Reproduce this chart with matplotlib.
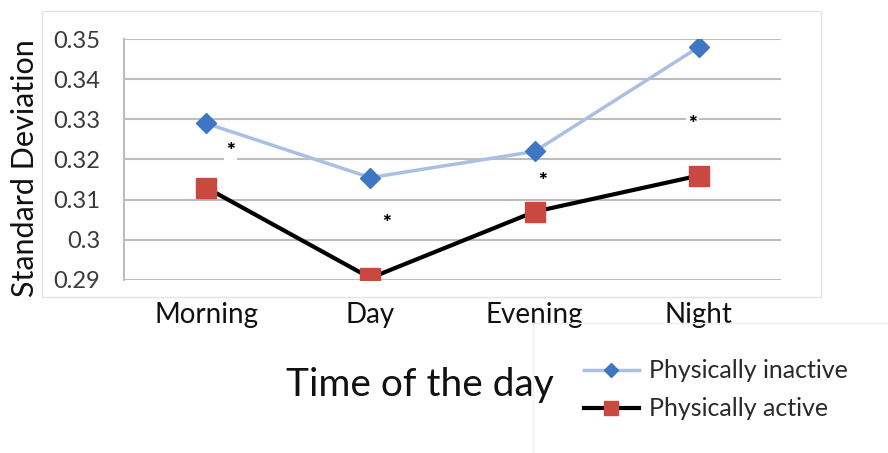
import numpy as np
import matplotlib.pyplot as plt
from matplotlib.patches import Rectangle
from matplotlib.lines import Line2D

plt.rcParams['font.family'] = ['Lato', 'DejaVu Sans']

# Dữ liệu theo thời điểm trong ngày
times = ['Morning', 'Day', 'Evening', 'Night']
inactive = [0.329, 0.3155, 0.322, 0.348]
active = [0.313, 0.2905, 0.307, 0.316]
y_ticks = [0.29, 0.3, 0.31, 0.32, 0.33, 0.34, 0.35]
y_tick_labels = ['0.29', '0.3', '0.31', '0.32', '0.33', '0.34', '0.35']

# Vị trí dấu * (mức ý nghĩa)
star_x = [0.65, 1.6, 2.55, 3.46]
star_y = [0.3219, 0.3040, 0.3146, 0.3288]

fig = plt.figure(figsize=(8.88, 4.53), dpi=100)
W, H = 888, 453

# Khung ngoài của biểu đồ
fig.patches.append(Rectangle((42 / W, 1 - 297 / H), (821 - 42) / W, (297 - 11) / H,
                             transform=fig.transFigure, fill=False,
                             edgecolor='#E4E4E4', linewidth=1))
# Khung chú thích
fig.add_artist(Line2D([533 / W, 533 / W], [1 - 323 / H, 0], transform=fig.transFigure,
                      color='#EDEDED', linewidth=1))
fig.add_artist(Line2D([533 / W, 1], [1 - 323 / H, 1 - 323 / H], transform=fig.transFigure,
                      color='#EDEDED', linewidth=1))

ax = fig.add_axes([124 / W, 1 - 280 / H, (781 - 124) / W, (280 - 39) / H])
x = np.arange(len(times)) + 0.5

ax.plot(x, inactive, color='#A9C0E3', linewidth=2.5, marker='D', markersize=10,
        markerfacecolor='#3F76C4', markeredgecolor='#3F76C4', zorder=3)
ax.plot(x, active, color='black', linewidth=3, marker='s', markersize=14,
        markerfacecolor='#C9483F', markeredgecolor='#C9483F', zorder=4)

for sx, sy in zip(star_x, star_y):
    ax.text(sx, sy, '*', ha='center', va='center', fontsize=15, fontweight='heavy',
            color='black', zorder=2,
            bbox=dict(facecolor='white', edgecolor='none', pad=1.5))

ax.set_xlim(0, 4)
ax.set_ylim(0.29, 0.35)
ax.set_yticks(y_ticks)
ax.set_yticklabels(y_tick_labels, fontsize=17, color='#3A3A3A')
ax.set_xticks(x)
ax.set_xticklabels(times, fontsize=20, color='#111111')
ax.tick_params(axis='both', length=0)
ax.tick_params(axis='y', pad=17)
ax.tick_params(axis='x', pad=16)
ax.grid(True, axis='y', color='#BDBDBD', linewidth=1.5)
ax.set_axisbelow(True)
for side in ['top', 'right', 'bottom']:
    ax.spines[side].set_visible(False)
ax.spines['left'].set_color('#BDBDBD')
ax.spines['left'].set_linewidth(1.5)

fig.text(25 / W, 1 - 168 / H, 'Standard Deviation', rotation=90, ha='center', va='center',
         fontsize=22, color='#111111')
fig.text(420 / W, 1 - 385 / H, 'Time of the day', ha='center', va='center',
         fontsize=28, color='#111111')

# Chú thích
handles = [
    Line2D([], [], color='#A9C0E3', linewidth=2.5, marker='D', markersize=7,
           markerfacecolor='#3F76C4', markeredgecolor='#3F76C4'),
    Line2D([], [], color='black', linewidth=3, marker='s', markersize=10,
           markerfacecolor='#C9483F', markeredgecolor='#C9483F'),
]
fig.legend(handles, ['Physically inactive', 'Physically active'], loc='center left',
           bbox_to_anchor=(561 / W, 1 - 390 / H), frameon=False,
           fontsize=18, handlelength=2.2, handletextpad=0.4, labelspacing=0.6,
           labelcolor='#2A2A2A')

fig.savefig('out.png', dpi=100, facecolor='white')
